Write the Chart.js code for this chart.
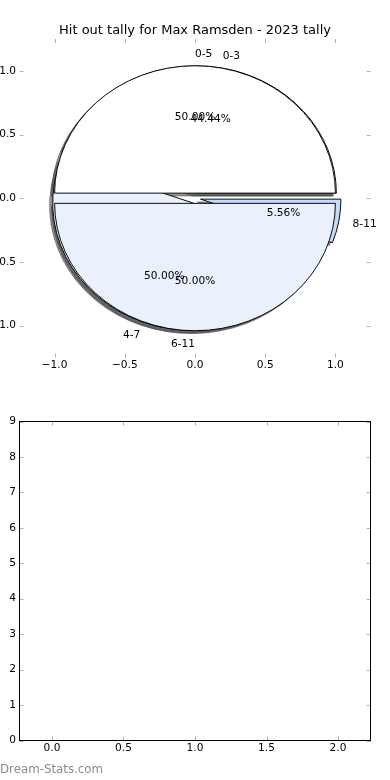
<!DOCTYPE html>
<html>
<head>
<meta charset="utf-8">
<script src="https://cdn.jsdelivr.net/npm/chart.js@4.4.0/dist/chart.umd.min.js"></script>
<style>
html, body { margin: 0; padding: 0; background: #fff; }
#wrap { position: relative; width: 390px; height: 780px; overflow: hidden; font-family: "DejaVu Sans", sans-serif; }
#wrap canvas { position: absolute; left: 0; }
#axesTop { top: 0; }
#pies { top: 0; }
#axesBottom { top: 390px; }
#mark { position: absolute; left: 0; top: 762px; font-size: 11.8px; line-height: 14px; color: #8c8c8c; white-space: nowrap; }
</style>
</head>
<body>
<div id="wrap">
  <canvas id="axesTop" width="390" height="390" style="width:390px;height:390px"></canvas>
  <canvas id="axesBottom" width="390" height="390" style="width:390px;height:390px"></canvas>
  <canvas id="pies" width="390" height="396" style="width:390px;height:396px"></canvas>
  <div id="mark">Dream-Stats.com</div>
</div>
<script>
const TITLE = 'Hit out tally for Max Ramsden - 2023 tally';

// pie drawn behind
const backLabels = ['0-3', '4-7', '8-11'];
const backValues = [8, 9, 1];
const backColors = ['#ffffff', '#eaf1fd', '#c6dbf8'];

// pie drawn in front
const frontLabels = ['0-5', '6-11'];
const frontValues = [9, 9];
const frontColors = ['#ffffff', '#eaf1fd'];

const pieTicks = [-1.0, -0.5, 0.0, 0.5, 1.0];
const barXTicks = [0.0, 0.5, 1.0, 1.5, 2.0];
const barYTicks = [0, 1, 2, 3, 4, 5, 6, 7, 8, 9];

// geometry of the matplotlib-like axes
const R_X = 140.4;
const R_Y = 127.4;
const EXPLODE = 0.04;
const LABEL_DIST = 1.1;
const PCT_DIST = 0.6;
const TICK_LEN = 4;
const LABEL_SIZE = 10.6;

Chart.defaults.font.family = '"DejaVu Sans", sans-serif';
Chart.defaults.color = '#000';

const fmt1 = v => (v < 0 ? '\u2212' : '') + Math.abs(v).toFixed(1);

const innerTicks = {
    id: 'innerTicks',
    afterDraw(chart, args, opts) {
        const {ctx, chartArea: a, scales} = chart;
        ctx.save();
        ctx.strokeStyle = 'rgba(0,0,0,0.3)';
        ctx.lineWidth = 1;
        ctx.beginPath();
        scales.x.ticks.forEach(t => {
            const x = Math.round(scales.x.getPixelForValue(t.value)) + 0.5;
            ctx.moveTo(x, a.bottom); ctx.lineTo(x, a.bottom - TICK_LEN);
            ctx.moveTo(x, a.top); ctx.lineTo(x, a.top + TICK_LEN);
        });
        scales.y.ticks.forEach(t => {
            const y = Math.round(scales.y.getPixelForValue(t.value)) + 0.5;
            ctx.moveTo(a.left, y); ctx.lineTo(a.left + TICK_LEN, y);
            ctx.moveTo(a.right, y); ctx.lineTo(a.right - TICK_LEN, y);
        });
        ctx.stroke();
        if (opts.frame) {
            ctx.strokeStyle = '#000';
            ctx.strokeRect(a.left, a.top, a.width, a.height);
        }
        if (opts.title) {
            ctx.fillStyle = '#000';
            ctx.font = '13px "DejaVu Sans"';
            ctx.textAlign = 'center';
            ctx.textBaseline = 'alphabetic';
            ctx.fillText(opts.title, (a.left + a.right) / 2, 34);
        }
        ctx.restore();
    }
};

function axesChart(id, cfg) {
    return new Chart(document.getElementById(id), {
        type: 'scatter',
        data: { datasets: [] },
        options: {
            responsive: false,
            animation: false,
            events: [],
            layout: { padding: { left: 0, right: 19.5, top: cfg.top, bottom: 0 } },
            plugins: {
                legend: { display: false },
                tooltip: { enabled: false },
                innerTicks: { frame: cfg.frame, title: cfg.title }
            },
            scales: {
                x: {
                    type: 'linear', min: cfg.xMin, max: cfg.xMax,
                    grid: { display: false, drawTicks: false },
                    border: { display: false },
                    afterBuildTicks: s => { s.ticks = cfg.xTicks.map(v => ({ value: v })); },
                    afterFit: s => { s.height = cfg.xHeight; },
                    ticks: { font: { size: LABEL_SIZE }, color: '#000', padding: cfg.xPad, maxRotation: 0, autoSkip: false, callback: fmt1 }
                },
                y: {
                    type: 'linear', min: cfg.yMin, max: cfg.yMax,
                    grid: { display: false, drawTicks: false },
                    border: { display: false },
                    afterBuildTicks: s => { s.ticks = cfg.yTicks.map(v => ({ value: v })); },
                    afterFit: s => { s.width = 19.5; },
                    ticks: { font: { size: LABEL_SIZE }, color: '#000', padding: 3.5, autoSkip: false, callback: cfg.yFmt }
                }
            }
        },
        plugins: [innerTicks]
    });
}

axesChart('axesTop', {
    top: 39, xHeight: 32.5, xPad: 1.3, frame: false, title: TITLE,
    xMin: -1.25, xMax: 1.25, yMin: -1.25, yMax: 1.25,
    xTicks: pieTicks, yTicks: pieTicks, yFmt: fmt1
});

axesChart('axesBottom', {
    top: 31.5, xHeight: 39.5, xPad: 1.8, frame: true, title: null,
    xMin: -0.227, xMax: 2.227, yMin: 0, yMax: 9,
    xTicks: barXTicks, yTicks: barYTicks, yFmt: v => String(v)
});

// matplotlib goes counter-clockwise from east; Chart.js clockwise, so reverse
const pies = [
    { labels: backLabels, values: backValues, colors: backColors },
    { labels: frontLabels, values: frontValues, colors: frontColors }
];

function drawArc(ctx, arc, shadow) {
    const m = (arc.startAngle + arc.endAngle) / 2;
    const keep = [arc.outerRadius, arc.innerRadius];
    arc.outerRadius = R_X;
    arc.innerRadius = 0;
    ctx.save();
    if (shadow) {
        const FAR = 2000;
        ctx.shadowColor = 'rgba(60,62,66,0.55)';
        ctx.shadowBlur = 0;
        ctx.shadowOffsetX = FAR - 0.022 * R_X;
        ctx.shadowOffsetY = 0.022 * R_Y;
        ctx.translate(-FAR, 0);
    }
    ctx.translate(EXPLODE * R_X * Math.cos(m), EXPLODE * R_X * Math.sin(m));
    arc.draw(ctx);
    ctx.restore();
    arc.outerRadius = keep[0];
    arc.innerRadius = keep[1];
}

const pieDraw = {
    id: 'pieDraw',
    beforeDatasetsDraw(chart) {
        const ctx = chart.ctx;
        const metas = pies.map((p, i) => chart.getDatasetMeta(i));
        const cx = metas[0].data[0].x, cy = metas[0].data[0].y;
        ctx.save();
        ctx.translate(cx, cy);
        ctx.scale(1, R_Y / R_X);
        ctx.translate(-cx, -cy);
        metas.forEach(meta => meta.data.forEach(arc => drawArc(ctx, arc, true)));
        metas.forEach(meta => meta.data.forEach(arc => drawArc(ctx, arc, false)));
        ctx.restore();
        return false;
    },
    afterDraw(chart) {
        const ctx = chart.ctx;
        ctx.save();
        ctx.font = LABEL_SIZE + 'px "DejaVu Sans"';
        ctx.fillStyle = '#000';
        ctx.textBaseline = 'middle';
        pies.forEach((pie, di) => {
            const meta = chart.getDatasetMeta(di);
            const n = meta.data.length;
            const total = pie.values.reduce((s, v) => s + v, 0);
            meta.data.forEach((arc, i) => {
                const k = n - 1 - i;
                const m = (arc.startAngle + arc.endAngle) / 2;
                const theta = 2 * Math.PI - m;
                const c = Math.cos(theta), s = Math.sin(theta);
                const lr = EXPLODE + LABEL_DIST, pr = EXPLODE + PCT_DIST;
                ctx.textAlign = c > 0 ? 'left' : 'right';
                ctx.fillText(pie.labels[k], arc.x + lr * R_X * c, arc.y - lr * R_Y * s + 1);
                ctx.textAlign = 'center';
                ctx.fillText((pie.values[k] / total * 100).toFixed(2) + '%', arc.x + pr * R_X * c, arc.y - pr * R_Y * s + 1);
            });
        });
        ctx.restore();
    }
};

new Chart(document.getElementById('pies'), {
    type: 'pie',
    data: {
        datasets: pies.map(p => ({
            data: [...p.values].reverse(),
            backgroundColor: [...p.colors].reverse(),
            borderColor: '#000',
            borderWidth: 1,
            rotation: 90
        }))
    },
    options: {
        responsive: false,
        animation: false,
        events: [],
        rotation: 90,
        layout: { padding: { top: 0.5 } },
        plugins: { legend: { display: false }, tooltip: { enabled: false } }
    },
    plugins: [pieDraw]
});
</script>
</body>
</html>
